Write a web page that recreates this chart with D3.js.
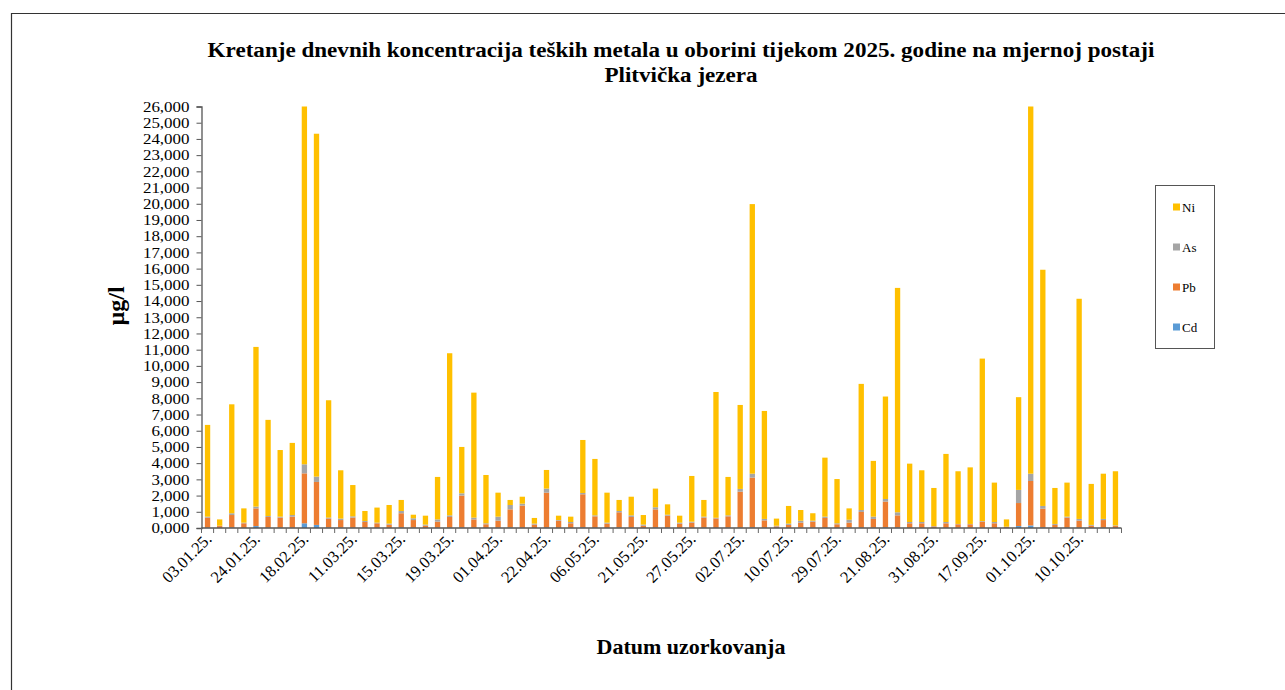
<!DOCTYPE html>
<html>
<head>
<meta charset="utf-8">
<script src="https://cdn.jsdelivr.net/npm/d3@7"></script>
<style>
  html, body { margin: 0; padding: 0; background: #fff; }
  svg { display: block; font-family: "Liberation Serif", "Times New Roman", serif; }
</style>
</head>
<body>
<svg id="chart" width="1285" height="690"></svg>
<script>
// ---- Data (µg/l), 76 samples in order ----
const tickLabels = ["03.01.25.","24.01.25.","18.02.25.","11.03.25.","15.03.25.","19.03.25.","01.04.25.","22.04.25.","06.05.25.","21.05.25.","27.05.25.","02.07.25.","10.07.25.","29.07.25.","21.08.25.","31.08.25.","17.09.25.","01.10.25.","10.10.25."];
const sampleIndex = d3.range(76);
const seriesNames = ["Cd","Pb","As","Ni"];

const cdValues = [0.02,0.01,0.03,0.01,0.12,0.02,0.02,0.02,0.29,0.19,0.03,0.02,0.02,0.01,0.01,0.01,0.03,0.02,0.01,
  0.02,0.02,0.03,0.02,0.01,0.02,0.03,0.02,0.01,0.03,0.01,0.01,0.04,0.02,0.01,0.03,0.02,0.01,0.03,
  0.02,0.01,0.01,0.02,0.01,0.02,0.02,0.04,0.02,0.01,0.01,0.02,0.02,0.02,0.01,0.02,0.02,0.02,0.04,
  0.03,0.01,0.01,0.01,0.01,0.01,0.01,0.01,0.01,0.01,0.12,0.16,0.04,0.01,0.02,0.02,0.01,0.02,0.01];
const pbValues = [0.62,0.11,0.77,0.28,1.09,0.66,0.62,0.68,3.08,2.65,0.55,0.47,0.62,0.36,0.28,0.20,0.88,0.47,0.13,
  0.37,0.66,1.97,0.51,0.22,0.43,1.12,1.36,0.20,2.15,0.44,0.28,2.04,0.70,0.26,0.94,0.66,0.13,1.12,
  0.74,0.26,0.32,0.62,0.58,0.70,2.22,3.07,0.45,0.09,0.18,0.31,0.37,0.60,0.22,0.31,0.97,0.54,1.59,
  0.75,0.28,0.28,0.09,0.28,0.22,0.22,0.38,0.28,0.05,1.42,2.74,1.15,0.18,0.62,0.43,0.13,0.47,0.11];
const asValues = [0.06,0.02,0.11,0.04,0.11,0.06,0.06,0.10,0.56,0.33,0.06,0.09,0.08,0.06,0.04,0.06,0.14,0.11,0.07,
  0.14,0.10,0.14,0.11,0.06,0.25,0.27,0.12,0.06,0.25,0.04,0.08,0.08,0.06,0.06,0.08,0.10,0.07,0.13,
  0.06,0.06,0.06,0.06,0.04,0.06,0.17,0.24,0.09,0.04,0.08,0.12,0.06,0.08,0.06,0.18,0.12,0.14,0.16,
  0.19,0.08,0.08,0.02,0.08,0.02,0.02,0.04,0.08,0.02,0.81,0.45,0.17,0.06,0.06,0.11,0.05,0.07,0.04];
const niValues = [5.66,0.39,6.72,0.88,9.85,5.93,4.11,4.45,22.07,21.15,7.24,2.98,1.93,0.62,0.93,1.15,0.68,0.22,0.55,
  2.62,10.00,2.86,7.71,2.98,1.48,0.31,0.43,0.35,1.15,0.27,0.33,3.27,3.48,1.85,0.68,1.15,0.59,1.15,
  0.64,0.43,2.82,1.03,7.76,2.37,5.18,16.63,6.66,0.44,1.09,0.66,0.46,3.64,2.73,0.70,7.78,3.44,6.32,
  13.84,3.60,3.19,2.35,4.20,3.25,3.49,10.02,2.43,0.45,5.72,22.65,14.57,2.22,2.10,13.58,2.53,2.79,3.34];

const seriesColors = {Cd:"#5B9BD5", Pb:"#ED7D31", As:"#A5A5A5", Ni:"#FFC000"};
const yTicks = d3.range(0, 27, 1);

// ---- Layout ----
const svg = d3.select("#chart");
const W = 1285, H = 690;
const m = {left: 201.5, right: 1121.5, top: 106.5, bottom: 528};
const SX = 1.13; // horizontal stretch of the text in the original export

// outer frame
svg.append("path").attr("d", `M11.5,${H} V13.5 H${W}`)
  .attr("fill","none").attr("stroke","#333").attr("stroke-width",1.2);

const rows = sampleIndex.map(i => ({i, Cd: cdValues[i], Pb: pbValues[i], As: asValues[i], Ni: niValues[i]}));
const stacked = d3.stack().keys(seriesNames)(rows);

const x = d3.scaleBand().domain(sampleIndex).range([m.left, m.right]).paddingInner(0.56).paddingOuter(0.28);
const y = d3.scaleLinear().domain([0, 26]).range([m.bottom, m.top]);

const fmt = d3.formatLocale({decimal: ",", thousands: ".", grouping: [3], currency: ["", ""]}).format(".3f");

// bars
const g = svg.append("g");
g.selectAll("g.series").data(stacked).join("g")
  .attr("class","series")
  .attr("fill", d => seriesColors[d.key])
  .selectAll("rect").data(d => d).join("rect")
  .attr("x", d => x(d.data.i))
  .attr("width", x.bandwidth())
  .attr("y", d => y(Math.min(d[1], 26)))
  .attr("height", d => Math.max(0, y(d[0]) - y(Math.min(d[1], 26))));

// y axis
const yAxis = d3.axisLeft(y).tickValues(yTicks).tickSize(5).tickFormat(v => fmt(v));
const ya = svg.append("g").attr("transform", `translate(${m.left},0)`).call(yAxis);
ya.select(".domain").attr("stroke","#555").attr("stroke-width",1.3);
ya.selectAll(".tick line").attr("stroke","#555");
ya.selectAll(".tick text").attr("font-family","Liberation Serif, serif").attr("font-size",15).attr("fill","#000")
  .attr("x", -12 / SX).attr("transform", `scale(${SX},1)`);

// x axis: baseline + category boundary ticks
const xa = svg.append("g");
xa.append("line").attr("x1", m.left).attr("x2", m.right).attr("y1", m.bottom).attr("y2", m.bottom)
  .attr("stroke","#555").attr("stroke-width",1.3);
const boundaries = d3.range(0, sampleIndex.length + 1).map(k => m.left + (m.right - m.left) * k / sampleIndex.length);
xa.selectAll("line.tk").data(boundaries).join("line").attr("class","tk")
  .attr("x1", d => d).attr("x2", d => d).attr("y1", m.bottom).attr("y2", m.bottom + 5)
  .attr("stroke","#666").attr("stroke-width",1);
xa.selectAll("text.lbl").data(tickLabels).join("text").attr("class","lbl")
  .attr("transform", (d, k) => `translate(${x(k * 4) + x.bandwidth() / 2 + 5},${m.bottom + 12}) rotate(-45)`)
  .attr("text-anchor","end").attr("font-size",16.5).attr("fill","#000")
  .text(d => d);

// title
[["Kretanje dnevnih koncentracija teških metala u oborini tijekom 2025. godine na mjernoj postaji", 57],
 ["Plitvička jezera", 82]].forEach(([t, ty]) => {
  svg.append("text").attr("transform", `translate(681,${ty}) scale(1.1,1)`).attr("text-anchor","middle")
    .attr("font-weight","bold").attr("font-size",21).attr("fill","#000").text(t);
});

// axis titles
svg.append("text").attr("transform","translate(124,306) rotate(-90)").attr("text-anchor","middle")
  .attr("font-weight","bold").attr("font-size",24).attr("fill","#000").text("µg/l");
svg.append("text").attr("x", 691).attr("y", 654).attr("text-anchor","middle")
  .attr("font-weight","bold").attr("font-size",22).attr("fill","#000").text("Datum uzorkovanja");

// legend
const lg = svg.append("g");
lg.append("rect").attr("x",1155.5).attr("y",185.5).attr("width",59).attr("height",163)
  .attr("fill","#fff").attr("stroke","#555").attr("stroke-width",1);
const legendOrder = ["Ni","As","Pb","Cd"];
legendOrder.forEach((k, j) => {
  const cy = 207 + j * 40;
  lg.append("rect").attr("x",1173).attr("y",cy - 3.5).attr("width",7).attr("height",7).attr("fill",seriesColors[k]);
  lg.append("text").attr("x",1182).attr("y",cy + 4.5).attr("font-size",13).attr("fill","#000").text(k);
});
</script>
</body>
</html>
